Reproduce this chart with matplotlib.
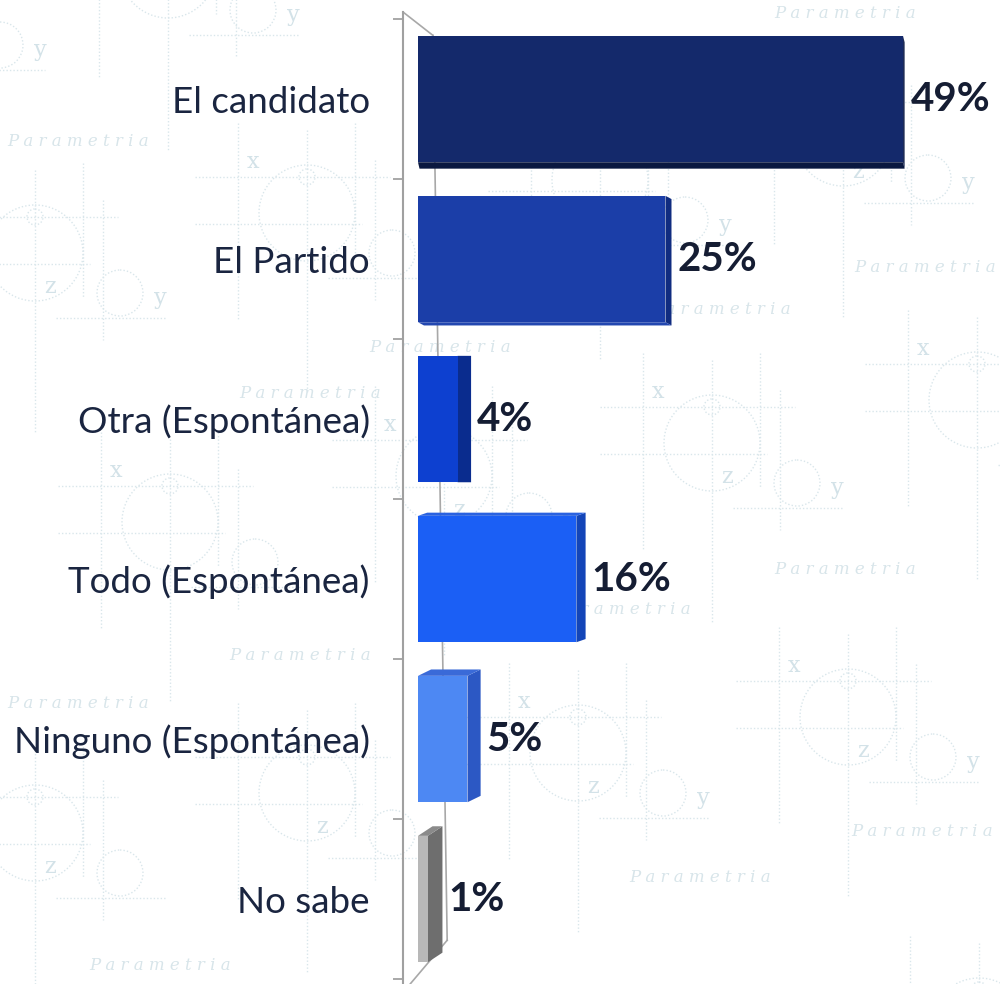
import matplotlib.pyplot as plt
from matplotlib.patches import Circle, Polygon
import numpy as np

# datos de la grafica
categorias = ["El candidato", "El Partido", "Otra (Espontánea)",
              "Todo (Espontánea)", "Ninguno (Espontánea)", "No sabe"]
porcentajes = [49, 25, 4, 16, 5, 1]
etiquetas = ["49%", "25%", "4%", "16%", "5%", "1%"]

colores = ["#14296b", "#1b3ea8", "#0d40d0", "#1b5ff5", "#4d88f3", "#b8b8b8"]
lados = ["#0b1a48", "#102c80", "#0a2c8e", "#1345b8", "#2c58c4", "#6e6e6e"]
tapas = ["#0a1840", "#2347b0", "#1a48c8", "#2a62e0", "#3a6ad8", "#8a8a8a"]

# marca de agua de fondo (decoracion)
motivos = [(-85, 5), (168, -30), (307, 213), (35, 253), (843, 138),
           (712, 443), (977, 400), (444, 476), (170, 522), (578, 753),
           (848, 717), (307, 793), (35, 833), (979, 1026), (600, 180)]
textos_fondo = [(845, 14), (78, 142), (925, 268), (720, 310), (440, 347),
                (310, 393), (845, 570), (620, 610), (300, 655), (78, 703),
                (700, 877), (160, 965), (922, 832)]

plt.rcParams['font.family'] = ['Lato', 'DejaVu Sans']

fig = plt.figure(figsize=(10, 9.84), dpi=100)
fig.patch.set_facecolor("white")

bg = fig.add_axes([0, 0, 1, 1])
bg.set_xlim(0, 1000)
bg.set_ylim(984, 0)
bg.axis("off")

col = "#d9e6eb"
punteado = dict(color=col, lw=1.0, ls=(0, (1, 1.5)), zorder=0)
filas_px = [99 + 160 * i for i in range(len(categorias))]


def libre(x, y):
    # evita letras de fondo cortadas o encima de las etiquetas
    if x < 12 or x > 988 or y < 12 or y > 972:
        return False
    if x < 390 and any(abs(y - f) < 24 for f in filas_px):
        return False
    return True


def motivo(cx, cy):
    for (x, y, r) in [(cx, cy, 48), (cx, cy - 36, 8), (cx + 85, cy + 40, 23)]:
        bg.add_patch(Circle((x, y), r, fill=False, ec=col, lw=1.0,
                            ls=(0, (1, 1.5)), zorder=0))
    bg.plot([cx - 112, cx + 83], [cy - 36, cy - 36], **punteado)
    bg.plot([cx - 112, cx + 55], [cy + 11, cy + 11], **punteado)
    bg.plot([cx + 21, cx + 130], [cy + 65, cy + 65], **punteado)
    bg.plot([cx - 69, cx - 69], [cy - 90, cy + 107], **punteado)
    bg.plot([cx, cx], [cy - 83, cy + 180], **punteado)
    bg.plot([cx + 48, cx + 48], [cy - 90, cy + 44], **punteado)
    bg.plot([cx + 68, cx + 68], [cy - 53, cy + 87], **punteado)
    for (dx, dy, t) in [(-54, -51, "x"), (15, 34, "z"), (125, 45, "y")]:
        if libre(cx + dx, cy + dy):
            bg.text(cx + dx, cy + dy, t, color="#d3e2e8", fontsize=16,
                    family="DejaVu Serif", ha="center", va="center", zorder=0)


for (cx, cy) in motivos:
    motivo(cx, cy)

for (x, y) in textos_fondo:
    bg.text(x, y, "P a r a m e t r i a", color="#d8e5ea", fontsize=12,
            family="DejaVu Serif", style="italic", ha="center", va="center",
            zorder=0)

# grafica principal
ax = fig.add_axes([0.403, 0, 0.597, 972 / 984])
ax.patch.set_alpha(0)
ax.set_xlim(-1.515, 58.79)
ax.set_ylim(5.531, -0.544)

ypos = np.arange(len(categorias))
alto = 0.79
desp = 0.0
px_x = 9.85
px_y = 160.0

ax.barh(ypos + desp, porcentajes, height=alto, color=colores, zorder=3)

for i, v in enumerate(porcentajes):
    c = ypos[i] + desp
    dx = max(1.5, 0.036 * (412 - v * px_x)) / px_x
    y_px = 99 + px_y * i
    ddy = -0.02 * (y_px - 420) / px_y
    arriba = c - alto / 2
    abajo = c + alto / 2
    lado = [(v, arriba), (v, abajo), (v + dx, abajo + ddy), (v + dx, arriba + ddy)]
    ax.add_patch(Polygon(lado, closed=True, fc=lados[i], ec="none", zorder=2))
    if ddy < 0:
        tapa = [(0, arriba), (v, arriba), (v + dx, arriba + ddy), (dx, arriba + ddy)]
    else:
        tapa = [(0, abajo), (v, abajo), (v + dx, abajo + ddy), (dx, abajo + ddy)]
    ax.add_patch(Polygon(tapa, closed=True, fc=tapas[i], ec="none", zorder=2))
    ax.text(v + dx + 0.6, c, etiquetas[i], ha="left", va="center",
            fontsize=29, fontweight="bold", color="#151d33", zorder=4)

# paredes del grafico 3D
pared = dict(color="#a8a8a8", lw=1.2, transform=ax.transAxes, zorder=1,
             clip_on=False)
ax.plot([0, 0.05], [1, 0.976], **pared)
ax.plot([0.05, 0.074], [0.976, 0.045], **pared)
ax.plot([0.074, 0.012], [0.045, 0], **pared)

ax.set_yticks(ypos)
ax.set_yticklabels(categorias, fontsize=26.5, color="#1a2540")
ax.set_yticks(np.arange(-0.5, len(categorias), 1.0), minor=True)
ax.tick_params(axis="y", which="major", length=0, pad=24)
ax.tick_params(axis="y", which="minor", length=7, width=1.2, color="#999999",
               direction="out")
ax.set_xticks([])
for s in ["top", "right", "bottom"]:
    ax.spines[s].set_visible(False)
ax.spines["left"].set_color("#a0a0a0")
ax.spines["left"].set_linewidth(1.5)

fig.savefig("out.png", dpi=100)
